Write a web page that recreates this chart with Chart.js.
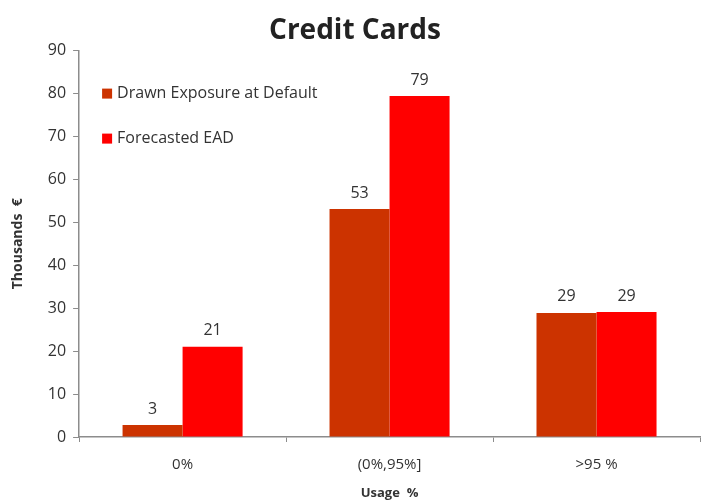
<!DOCTYPE html>
<html>
<head>
<meta charset="utf-8">
<script src="https://cdn.jsdelivr.net/npm/chart.js@4"></script>
<style>
    html, body { margin: 0; padding: 0; background: #fff; }
    #wrap { width: 703px; height: 502px; }
</style>
</head>
<body>
<div id="wrap"><canvas id="creditChart"></canvas></div>
<script>
// Chart data
const categories = ['0%', '(0%,95%]', '>95 %'];
const drawnEAD = [2.8, 53.1, 28.9];
const forecastEAD = [21.0, 79.4, 29.1];
const seriesNames = ['Drawn Exposure at Default', 'Forecasted EAD'];
const yTicks = [0, 10, 20, 30, 40, 50, 60, 70, 80, 90];

const FONT = '"Open Sans", "DejaVu Sans", sans-serif';
const TEXT_COLOR = '#333333';
const AXIS_COLOR = '#8c8c8c';

// Draw the rounded value above every bar
const valueLabels = {
    id: 'valueLabels',
    afterDatasetsDraw(chart) {
        const ctx = chart.ctx;
        ctx.save();
        ctx.font = '16px ' + FONT;
        ctx.fillStyle = TEXT_COLOR;
        ctx.textAlign = 'center';
        ctx.textBaseline = 'bottom';
        chart.data.datasets.forEach((ds, i) => {
            chart.getDatasetMeta(i).data.forEach((bar, j) => {
                ctx.fillText(Math.round(ds.data[j]), bar.x, bar.y - 8);
            });
        });
        ctx.restore();
    }
};

// Legend sits inside the plot, top left, one entry per row
const innerLegend = {
    id: 'innerLegend',
    afterDraw(chart) {
        const ctx = chart.ctx;
        const area = chart.chartArea;
        ctx.save();
        ctx.font = '16px ' + FONT;
        ctx.textBaseline = 'middle';
        chart.data.datasets.forEach((ds, i) => {
            const x = area.left + 23;
            const y = area.top + 43 + i * 45;
            ctx.fillStyle = ds.backgroundColor;
            ctx.fillRect(x, y - 5, 10, 10);
            ctx.fillStyle = TEXT_COLOR;
            ctx.fillText(ds.label, x + 15, y);
        });
        ctx.restore();
    }
};

const ctx = document.getElementById('creditChart').getContext('2d');
const creditChart = new Chart(ctx, {
    type: 'bar',
    data: {
        labels: categories,
        datasets: [{
            label: seriesNames[0],
            data: drawnEAD,
            backgroundColor: '#cc3300',
            categoryPercentage: 0.58,
            barPercentage: 1.0
        }, {
            label: seriesNames[1],
            data: forecastEAD,
            backgroundColor: '#ff0000',
            categoryPercentage: 0.58,
            barPercentage: 1.0
        }]
    },
    options: {
        responsive: true,
        maintainAspectRatio: false,
        animation: false,
        layout: {
            padding: { left: 10, right: 3, top: 6, bottom: 0 }
        },
        plugins: {
            legend: { display: false },
            tooltip: { enabled: false },
            title: {
                display: true,
                text: 'Credit Cards',
                color: '#222',
                font: { family: FONT, size: 28, weight: 'bold' },
                padding: { top: 8, bottom: 3 }
            }
        },
        scales: {
            x: {
                grid: {
                    display: true,
                    drawOnChartArea: false,
                    offset: true,
                    color: AXIS_COLOR,
                    tickLength: 5
                },
                border: { color: AXIS_COLOR, width: 1.5 },
                ticks: {
                    color: TEXT_COLOR,
                    font: { family: FONT, size: 15, lineHeight: 1.0 },
                    padding: 15
                },
                title: {
                    display: true,
                    text: 'Usage  %',
                    color: TEXT_COLOR,
                    font: { family: FONT, size: 13, weight: 'bold', lineHeight: 1.0 },
                    padding: { top: 0, bottom: 2 }
                }
            },
            y: {
                min: 0,
                max: 90,
                afterBuildTicks(scale) {
                    scale.ticks = yTicks.map(v => ({ value: v }));
                },
                grid: {
                    display: true,
                    drawOnChartArea: false,
                    color: AXIS_COLOR,
                    tickLength: 6
                },
                border: { color: AXIS_COLOR, width: 1.5 },
                ticks: {
                    color: TEXT_COLOR,
                    font: { family: FONT, size: 16 },
                    padding: 7
                },
                title: {
                    display: true,
                    text: 'Thousands  €',
                    color: TEXT_COLOR,
                    font: { family: FONT, size: 14, weight: 'bold' },
                    padding: { top: 0, bottom: 14 }
                }
            }
        }
    },
    plugins: [valueLabels, innerLegend]
});
</script>
</body>
</html>
